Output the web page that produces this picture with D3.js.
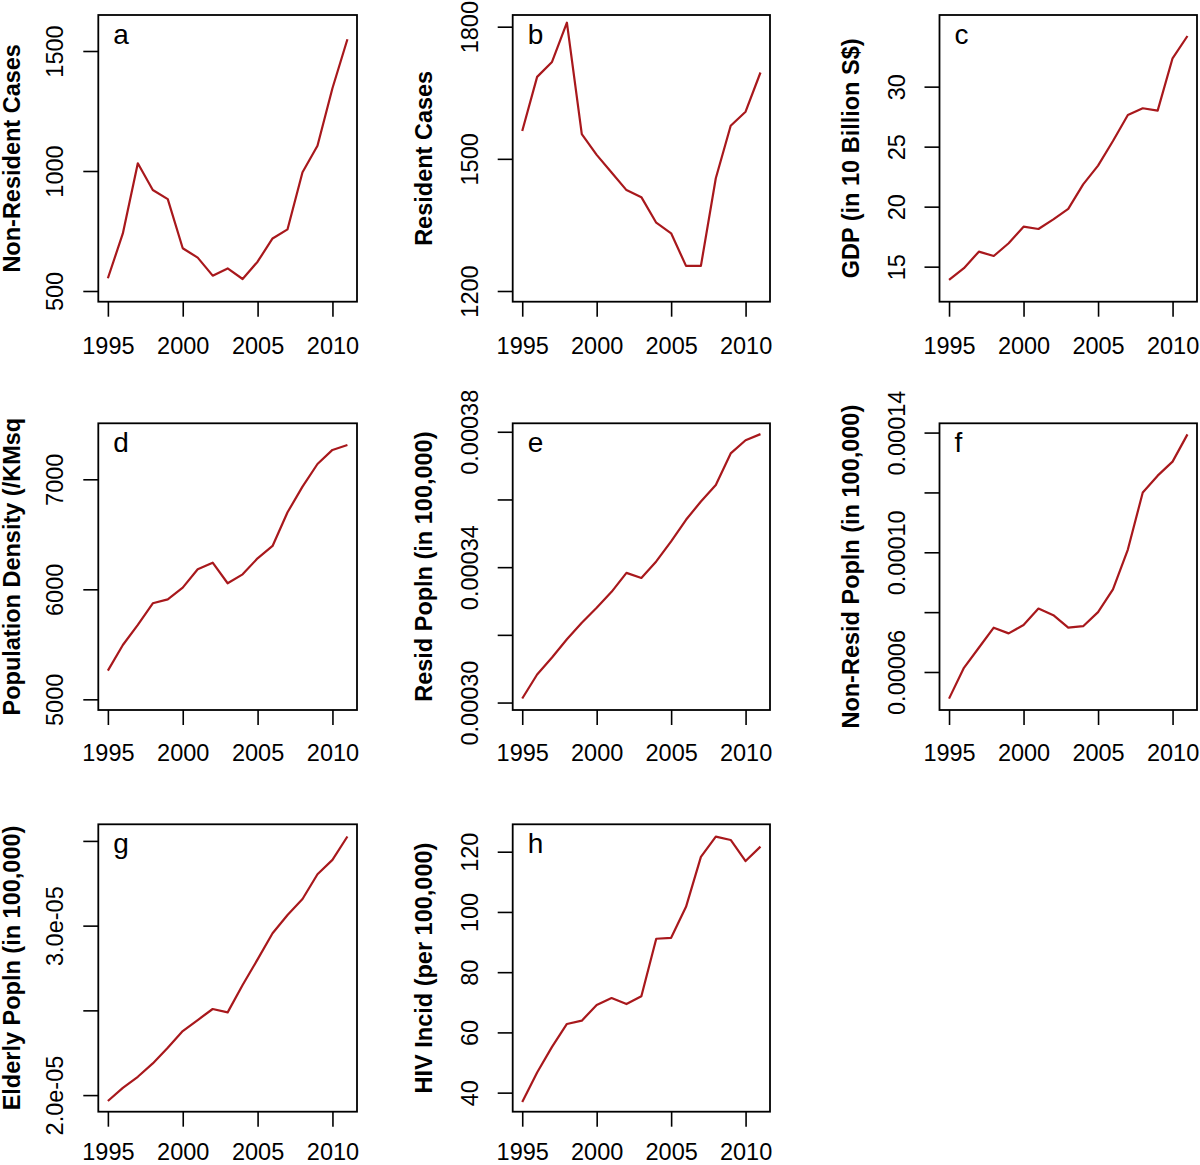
<!DOCTYPE html>
<html>
<head>
<meta charset="utf-8">
<script src="https://cdn.jsdelivr.net/npm/d3@7"></script>
<style>
  html, body { margin: 0; padding: 0; background: #fff; }
  svg { display: block; }
  text { font-family: "Liberation Sans", Arial, Helvetica, sans-serif; }
</style>
</head>
<body>
<svg id="chart" width="1200" height="1165"></svg>
<script>
// ---------------- DATA ----------------
const years = [1995, 1996, 1997, 1998, 1999, 2000, 2001, 2002, 2003, 2004, 2005, 2006, 2007, 2008, 2009, 2010, 2011];
const xTickYears = [1995, 2000, 2005, 2010];

const nonResidentCases = [553, 740, 1032, 921, 883, 678, 639, 564, 594, 550, 622, 719, 757, 995, 1105, 1345, 1549];
const residentCases = [1563, 1686, 1720, 1809, 1556, 1509, 1469, 1429, 1413, 1355, 1331, 1257, 1257, 1456, 1575, 1607, 1696];
const gdp = [13.89, 14.87, 16.25, 15.89, 16.95, 18.33, 18.14, 18.94, 19.81, 21.86, 23.42, 25.47, 27.64, 28.2, 28.0, 32.36, 34.22];
const popDensity = [5261, 5494, 5676, 5873, 5909, 6015, 6182, 6242, 6055, 6136, 6282, 6394, 6700, 6933, 7139, 7267, 7312];
const residPop = [0.0003012, 0.0003083, 0.0003133, 0.0003187, 0.0003236, 0.0003280, 0.0003327, 0.0003383, 0.0003368, 0.0003417, 0.0003476, 0.0003540, 0.0003594, 0.0003643, 0.0003736, 0.0003775, 0.0003793];
const nonResidPop = [0.0000511, 0.0000614, 0.0000681, 0.0000748, 0.0000729, 0.0000757, 0.0000812, 0.0000790, 0.0000748, 0.0000753, 0.0000800, 0.0000876, 0.0001009, 0.0001200, 0.0001256, 0.0001303, 0.0001394];
const elderlyPop = [0.00001965, 0.00002043, 0.00002108, 0.00002187, 0.00002280, 0.00002378, 0.00002443, 0.00002508, 0.00002488, 0.00002650, 0.00002801, 0.00002955, 0.00003063, 0.00003157, 0.00003303, 0.00003388, 0.00003526];
const hivIncid = [36.9, 46.7, 55.2, 62.8, 63.9, 69.1, 71.4, 69.4, 72.0, 91.1, 91.4, 101.7, 118.3, 125.0, 123.9, 116.9, 121.7];

const panelLetters = ["a", "b", "c", "d", "e", "f", "g", "h"];
const yTitles = ["Non-Resident Cases", "Resident Cases", "GDP (in 10 Billion S$)", "Population Density (/KMsq",
                 "Resid Popln (in 100,000)", "Non-Resid Popln (in 100,000)", "Elderly Popln (in 100,000)", "HIV Incid (per 100,000)"];
const seriesList = [nonResidentCases, residentCases, gdp, popDensity, residPop, nonResidPop, elderlyPop, hivIncid];

const yTicks = [
  [500, 1000, 1500],
  [1200, 1500, 1800],
  [15, 20, 25, 30],
  [5000, 6000, 7000],
  [0.00030, 0.00032, 0.00034, 0.00036, 0.00038],
  [0.00006, 0.00008, 0.00010, 0.00012, 0.00014],
  [0.000020, 0.000025, 0.000030, 0.000035],
  [40, 60, 80, 100, 120]
];
const yTickLabels = [
  ["500", "1000", "1500"],
  ["1200", "1500", "1800"],
  ["15", "20", "25", "30"],
  ["5000", "6000", "7000"],
  ["0.00030", "", "0.00034", "", "0.00038"],
  ["0.00006", "", "0.00010", "", "0.00014"],
  ["2.0e-05", "", "3.0e-05", ""],
  ["40", "60", "80", "100", "120"]
];
// axis limits
const yLimits = [
  [455.4, 1650],
  [1175.7, 1826.5],
  [12.08, 35.97],
  [4903, 7509],
  [0.0002978, 0.0003825],
  [0.0000473, 0.0001431],
  [0.00001902, 0.00003598],
  [33.67, 129.1]
];
const xLimits = [1994.36, 2011.64];

// ---------------- LAYOUT ----------------
const colLeft = [98.3, 512.7, 939.5];
const colRight = [357, 770, 1197];
const rowTop = [15, 423.3, 824.3];
const rowBottom = [301.7, 710, 1111.7];
const xLabelOffset = [52.5, 50.5, 48.5];
const yTitleOffset = [78, 81, 81];

const lineColor = "#a8181c";
const fontSize = 23.5;

const svg = d3.select("#chart");
svg.append("rect").attr("width", 1200).attr("height", 1165).attr("fill", "#fff");

seriesList.forEach((series, i) => {
  const col = i % 3, row = Math.floor(i / 3);
  const L = colLeft[col], R = colRight[col], T = rowTop[row], B = rowBottom[row];
  const w = R - L, h = B - T;
  const g = svg.append("g").attr("transform", `translate(${L},${T})`);

  const x = d3.scaleLinear().domain(xLimits).range([0, w]);
  const y = d3.scaleLinear().domain(yLimits[i]).range([h, 0]);

  // x axis
  const xa = g.append("g").attr("transform", `translate(0,${h})`)
    .call(d3.axisBottom(x).tickValues(xTickYears).tickSize(15).tickFormat(d3.format("d")));
  xa.select(".domain").remove();
  xa.selectAll(".tick line").attr("stroke", "#000").attr("stroke-width", 1.6);
  xa.selectAll(".tick text")
    .attr("y", xLabelOffset[row]).attr("dy", 0)
    .attr("font-size", fontSize).attr("fill", "#000")
    .style("font-family", '"Liberation Sans", Arial, sans-serif');

  // y axis
  const labels = yTickLabels[i];
  const ya = g.append("g")
    .call(d3.axisLeft(y).tickValues(yTicks[i]).tickSize(15).tickFormat((d, k) => labels[k]));
  ya.select(".domain").remove();
  ya.selectAll(".tick line").attr("stroke", "#000").attr("stroke-width", 1.6);
  ya.selectAll(".tick text")
    .attr("x", 0).attr("y", 0).attr("dy", 0)
    .attr("transform", "translate(-35,0) rotate(-90)")
    .attr("text-anchor", "middle")
    .attr("font-size", fontSize).attr("fill", "#000")
    .style("font-family", '"Liberation Sans", Arial, sans-serif');

  // data line
  const line = d3.line().x((d, k) => x(years[k])).y(d => y(d));
  g.append("path").datum(series)
    .attr("d", line)
    .attr("fill", "none")
    .attr("stroke", lineColor)
    .attr("stroke-width", 2.2)
    .attr("stroke-linejoin", "round");

  // frame
  g.append("rect").attr("x", 0).attr("y", 0).attr("width", w).attr("height", h)
    .attr("fill", "none").attr("stroke", "#000").attr("stroke-width", 1.8);

  // panel letter
  g.append("text").attr("x", 15).attr("y", 29)
    .attr("font-size", 28).attr("fill", "#000")
    .text(panelLetters[i]);

  // y title
  g.append("text")
    .attr("transform", `translate(${-yTitleOffset[col]},${h / 2}) rotate(-90)`)
    .attr("text-anchor", "middle")
    .attr("font-size", fontSize).attr("font-weight", "bold").attr("fill", "#000")
    .text(yTitles[i]);
});
</script>
</body>
</html>
